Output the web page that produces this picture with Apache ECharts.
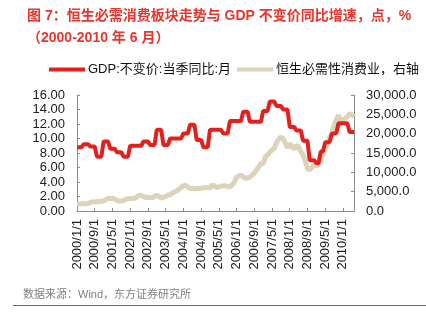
<!DOCTYPE html>
<html>
<head>
<meta charset="utf-8">
<script src="https://cdn.jsdelivr.net/npm/echarts@6/dist/echarts.min.js"></script>
<style>
html,body{margin:0;padding:0;background:#fff;}
#c{width:426px;height:321px;}
</style>
</head>
<body>
<div id="c"></div>
<script>
// Categories: monthly from 2000/1 to 2010/6
var categories = [];
for (var y = 2000; y <= 2010; y++) {
  for (var m = 1; m <= 12; m++) {
    if (y === 2010 && m > 6) break;
    categories.push(y + '/' + m + '/1');
  }
}

var gdpName = 'GDP:不变价:当季同比:月';
var consName = '恒生必需性消费业，右轴';

var gdpYoY = [
  8.8,8.8,8.8, 9.2,9.2,9.2, 8.9,8.9,8.9, 7.5,7.5,7.5,
  9.6,9.6,9.6, 8.6,8.6,8.6, 8.1,8.1,8.1, 7.5,7.5,7.5,
  9.0,9.0,9.0, 9.0,9.0,9.0, 9.6,9.6,9.6, 9.1,9.1,9.1,
  11.2,11.2,11.2, 9.1,9.1,9.1, 10.0,10.0,10.0, 10.0,10.0,10.0,
  10.7,10.7,10.7, 11.9,11.9,11.9, 9.8,9.8,9.8, 8.8,8.8,8.8,
  11.2,11.2,11.2, 11.2,11.2,11.2, 10.7,10.7,10.7, 12.4,12.4,12.4,
  12.4,12.4,12.4, 13.7,13.7,13.7, 12.3,12.3,12.3, 12.3,12.3,12.3,
  13.8,13.8,13.8, 15.1,15.1,15.1, 14.5,14.5,14.5, 14.0,14.0,14.0,
  11.6,11.6,11.6, 11.1,11.1,11.1, 9.7,9.7,9.7, 7.0,7.0,7.0,
  6.6,6.6, 8.2,8.2, 9.5,9.5,9.5, 10.7,10.7,10.7,
  12.1,12.1,12.1,12.1,12.1, 10.9,10.9,10.9
];

var consIndex = [
  1800,1750,1850,1900,1850,2000,2200,2400,2350,2450,2400,2500,
  2600,2900,3300,3250,3300,3100,2700,2600,2550,2700,3000,3200,
  3250,3200,3300,3600,4100,4000,3700,3500,3550,3450,3500,3800,
  4100,3800,3300,3500,3700,4100,4200,4600,5000,5200,5600,6100,
  6500,6700,6200,5800,5900,5700,5800,5800,5900,6000,6100,6050,
  6000,6700,6500,6100,6200,6450,6500,6550,6300,6300,6700,7500,
  8700,9050,9300,8800,8450,8600,8700,9300,9800,10600,11400,12300,
  12200,14000,14500,15200,15800,16200,17600,18500,19200,18700,17600,16300,
  17500,16600,16000,17000,16600,15400,14500,13000,11000,10600,11300,11900,
  11600,12150,13200,14900,16000,17500,19000,20100,22200,23500,24800,23100,
  23500,24000,24400,25200,24800,24400
];

var leftTicks = [0, 16, 2];
var rightTicks = [0, 30000, 5000];

var FONT = "'Liberation Sans', Arial, 'Noto Sans CJK SC', sans-serif";
var RED = '#e4201c';
var BEIGE = '#ddd3bb';
var AXIS = '#8c8c8c';

var chart = echarts.init(document.getElementById('c'));
chart.setOption({
  animation: false,
  backgroundColor: '#fff',
  textStyle: { fontFamily: FONT },
  title: {
    text: '图 7：恒生必需消费板块走势与 GDP 不变价同比增速，点，%\n（2000-2010 年 6 月）',
    left: 22, top: 0,
    textStyle: { fontFamily: FONT, fontSize: 14, fontWeight: 'bold', color: '#e8352d', lineHeight: 22 }
  },
  legend: {
    left: 44, top: 58,
    itemWidth: 36, itemHeight: 4, itemGap: 6,
    icon: 'rect',
    textStyle: { fontFamily: FONT, fontSize: 13, color: '#111', padding: [0,0,0,-2] },
    data: [gdpName, consName]
  },
  grid: { left: 77, right: 72, top: 95, bottom: 110, containLabel: false },
  xAxis: {
    type: 'category',
    data: categories,
    boundaryGap: false,
    axisLine: { lineStyle: { color: AXIS, width: 1 } },
    axisTick: { inside: true, length: 3, interval: 7, lineStyle: { color: AXIS } },
    axisLabel: { rotate: 90, interval: 7, margin: 8, fontSize: 13, color: '#222', fontFamily: FONT }
  },
  yAxis: [
    {
      type: 'value', min: leftTicks[0], max: leftTicks[1], interval: leftTicks[2],
      splitLine: { show: false },
      axisLine: { show: true, lineStyle: { color: AXIS } },
      axisTick: { show: true, inside: true, length: 3, lineStyle: { color: AXIS } },
      axisLabel: { margin: 12, fontSize: 13, color: '#222', fontFamily: FONT,
        formatter: function (v) { return v.toFixed(2); } }
    },
    {
      type: 'value', min: rightTicks[0], max: rightTicks[1], interval: rightTicks[2],
      position: 'right',
      splitLine: { show: false },
      axisLine: { show: true, lineStyle: { color: AXIS } },
      axisTick: { show: true, inside: true, length: 3, lineStyle: { color: AXIS } },
      axisLabel: { margin: 12, fontSize: 13, color: '#222', fontFamily: FONT,
        formatter: function (v) {
          return v.toLocaleString('en-US', { minimumFractionDigits: 1, maximumFractionDigits: 1 });
        } }
    }
  ],
  series: [
    {
      name: gdpName, type: 'line', yAxisIndex: 0, data: gdpYoY,
      showSymbol: false, symbol: 'none', z: 3,
      lineStyle: { color: RED, width: 4 }, itemStyle: { color: RED }
    },
    {
      name: consName, type: 'line', yAxisIndex: 1, data: consIndex,
      showSymbol: false, symbol: 'none', z: 2,
      lineStyle: { color: BEIGE, width: 5 }, itemStyle: { color: BEIGE }
    }
  ],
  graphic: [
    { type: 'text', left: 23, top: 289,
      style: { text: '数据来源：Wind，东方证券研究所', fontSize: 11, fill: '#808080', fontFamily: FONT } },
    { type: 'line', shape: { x1: 13, y1: 305.5, x2: 426, y2: 305.5 },
      style: { stroke: '#e03a35', lineWidth: 1 } }
  ]
});
</script>
</body>
</html>
